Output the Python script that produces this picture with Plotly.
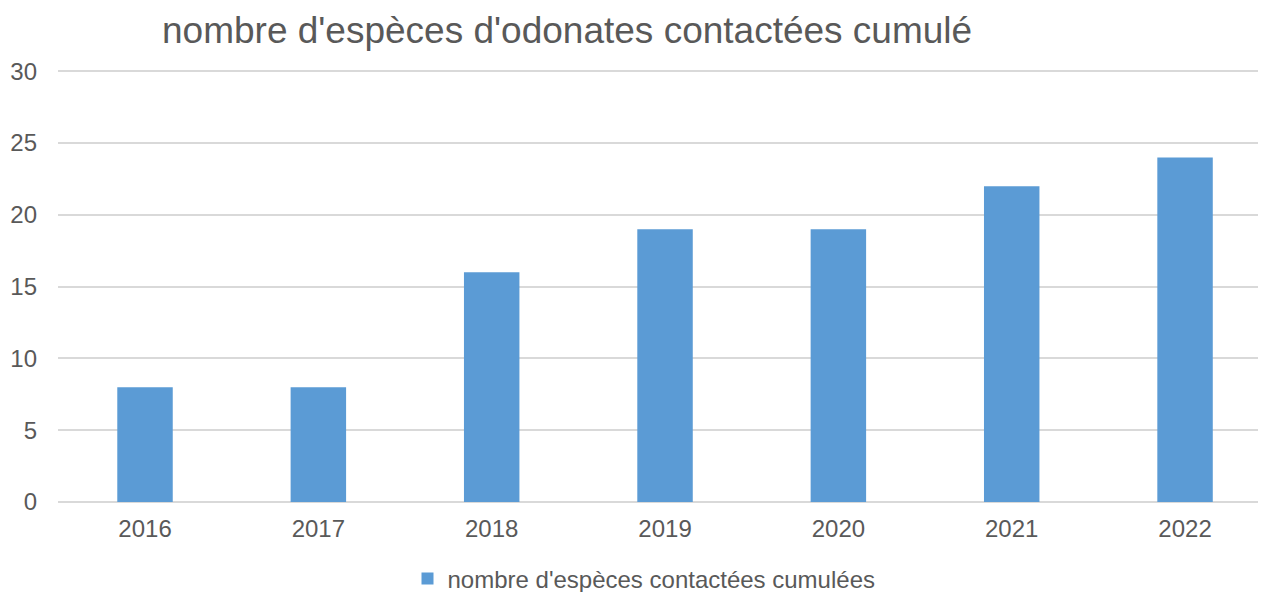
import plotly.graph_objects as go

years = ["2016", "2017", "2018", "2019", "2020", "2021", "2022"]
values = [8, 8, 16, 19, 19, 22, 24]
series_name = "nombre d'espèces contactées cumulées"
title_text = "nombre d'espèces d'odonates contactées cumulé"

txt = "#595959"
font = "Liberation Sans, Arial, sans-serif"

W, H = 1258, 584  # page body adds an 8px offset

fig = go.Figure()
fig.add_trace(go.Bar(x=years, y=values, name=series_name, marker_color="#5b9bd5",
                     marker_line_width=0))

fig.update_layout(
    width=W, height=H,
    paper_bgcolor="white", plot_bgcolor="white",
    margin=dict(l=50, r=0, t=59, b=90, pad=0),
    bargap=0.68,
    showlegend=True,
    title=dict(text=title_text, x=154/W, xanchor="left", y=1-22/H, yanchor="middle",
               font=dict(family=font, size=37, color=txt)),
    legend=dict(orientation="h", xref="container", yref="container",
                x=0.5 + 7/W, xanchor="center", y=1-571/H, yanchor="middle",
                font=dict(family=font, size=24, color=txt), itemwidth=30,
                tracegroupgap=0),
    font=dict(family=font, color=txt),
)
fig.update_xaxes(type="category", range=[-0.502, 6.467], showgrid=False, zeroline=False,
                 showline=False, ticks="", tickfont=dict(family=font, size=24, color=txt),
                 ticklabelstandoff=10, automargin=False)
fig.update_yaxes(range=[0, 30.3], tickvals=[0, 5, 10, 15, 20, 25, 30], showgrid=True,
                 gridcolor="#d9d9d9", gridwidth=2,
                 zeroline=True, zerolinecolor="#d9d9d9", zerolinewidth=2,
                 tickfont=dict(family=font, size=24, color=txt), ticks="",
                 ticklabelstandoff=20, automargin=False)

fig.write_html("out.html")
